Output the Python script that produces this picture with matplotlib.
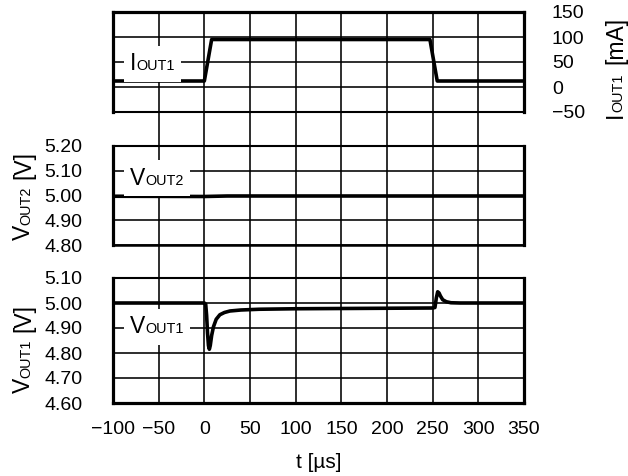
import matplotlib
matplotlib.use("Agg")
import matplotlib.pyplot as plt
from matplotlib.offsetbox import TextArea, HPacker, AnnotationBbox

plt.rcParams['font.family'] = ['Liberation Sans', 'DejaVu Sans']

# ---------------- data ----------------
t_ticks = [-100, -50, 0, 50, 100, 150, 200, 250, 300, 350]
i_ticks = [-50, 0, 50, 100, 150]
v2_ticks = [4.80, 4.90, 5.00, 5.10, 5.20]
v1_ticks = [4.60, 4.70, 4.80, 4.90, 5.00, 5.10]

t_i = [-100, 0, 8, 247, 255, 350]
i_out1 = [12, 12, 95, 95, 12, 12]

t_v2 = [-100, 0, 25, 350]
v_out2 = [4.997, 4.996, 4.998, 4.998]

t_v1 = [-100, 0, 1.5, 2.5, 3.5, 4.5, 5.5, 6.5, 8, 10, 13, 17, 22, 28, 40, 60,
        100, 150, 200, 250, 252.5, 254, 255.5, 257, 258.5, 261, 265, 270, 280, 350]
v_out1 = [5.00, 5.00, 4.995, 4.95, 4.88, 4.83, 4.815, 4.83, 4.87, 4.905, 4.935,
          4.953, 4.962, 4.968, 4.972, 4.975, 4.977, 4.978, 4.979, 4.980, 4.982,
          5.02, 5.045, 5.04, 5.028, 5.013, 5.005, 5.001, 5.00, 5.00]

# ---------------- layout ----------------
W, H = 628, 476
fig = plt.figure(figsize=(W / 100, H / 100), dpi=100)


def rect(l, t, r, b):
    return [l / W, 1 - b / H, (r - l) / W, (b - t) / H]


L, R = 113, 524
THICK, THIN, GRID, SIG = 2.3, 1.5, 1.15, 2.6
TICK_FS, LAB_FS, SUB_FS = 14, 16.5, 10.4

bg = fig.add_axes(rect(L, 12, R, 403), zorder=0)
bg.set_xlim(t_ticks[0], t_ticks[-1])
bg.set_ylim(0, 1)
bg.axis('off')
bg.vlines(t_ticks[1:-1], 0, 1, color='k', lw=GRID)

ax1 = fig.add_axes(rect(L, 12, R, 112), zorder=1)
ax2 = fig.add_axes(rect(L, 146, R, 245), zorder=1)
ax3 = fig.add_axes(rect(L, 278, R, 403), zorder=1)

spine_w = {
    ax1: dict(top=THICK, left=THICK, right=THICK, bottom=THIN),
    ax2: dict(top=THIN, left=THICK, right=THICK, bottom=1.8),
    ax3: dict(top=THIN, left=THICK, right=THICK, bottom=THICK),
}

for ax in (ax1, ax2, ax3):
    ax.patch.set_visible(False)
    ax.set_xlim(t_ticks[0], t_ticks[-1])
    ax.set_xticks(t_ticks)
    ax.grid(axis='y', color='k', lw=GRID)
    ax.grid(axis='x', visible=False)
    ax.tick_params(length=0, labelsize=TICK_FS)
    for k, w in spine_w[ax].items():
        ax.spines[k].set_linewidth(w)
        ax.spines[k].set_capstyle('projecting')

ax1.set_ylim(i_ticks[0], i_ticks[-1])
ax1.set_yticks(i_ticks)
ax1.yaxis.tick_right()
ax1.tick_params(axis='y', pad=20)
ax1.tick_params(axis='x', labelbottom=False)

ax2.set_ylim(v2_ticks[0], v2_ticks[-1])
ax2.set_yticks(v2_ticks)
ax2.set_yticklabels([f"{v:.2f}" for v in v2_ticks])
ax2.tick_params(axis='y', pad=22)
ax2.tick_params(axis='x', labelbottom=False)

ax3.set_ylim(v1_ticks[0], v1_ticks[-1])
ax3.set_yticks(v1_ticks)
ax3.set_yticklabels([f"{v:.2f}" for v in v1_ticks])
ax3.tick_params(axis='y', pad=22)
ax3.tick_params(axis='x', pad=13)

kw = dict(color='k', lw=SIG, solid_joinstyle='round', solid_capstyle='butt', zorder=3)
ax1.plot(t_i, i_out1, **kw)
ax2.plot(t_v2, v_out2, **kw)
ax3.plot(t_v1, v_out1, **kw)


def panel_label(ax, x, y, big, small):
    ta1 = TextArea(big, textprops=dict(fontsize=LAB_FS))
    ta2 = TextArea(small, textprops=dict(fontsize=SUB_FS))
    pk = HPacker(children=[ta1, ta2], align='baseline', pad=0, sep=0)
    ab = AnnotationBbox(pk, (x, y), xycoords='data', box_alignment=(0, 0.5),
                        frameon=True, pad=0.45,
                        bboxprops=dict(fc='white', ec='none'), zorder=4)
    ax.add_artist(ab)


panel_label(ax1, -81, 46, "I", "OUT1")
panel_label(ax2, -81, 5.07, "V", "OUT2")
panel_label(ax3, -81, 4.905, "V", "OUT1")

renderer = fig.canvas.get_renderer()


def text_width(s, size):
    tt = fig.text(0, 0, s, fontsize=size)
    w = tt.get_window_extent(renderer).width
    tt.remove()
    return w


def multi_text(x, y, parts, rotation=0):
    """x, y: pixel position (from top-left) of the baseline start."""
    px, py = x, H - y
    for s, size, gap in parts:
        if rotation == 90:
            py += gap
        else:
            px += gap
        fig.text(px / W, py / H, s, fontsize=size, rotation=rotation,
                 rotation_mode='anchor', ha='left', va='baseline')
        w = text_width(s, size)
        if rotation == 90:
            py += w
        else:
            px += w


multi_text(30, 240, [("V", LAB_FS, 0), ("OUT2", SUB_FS, 0), ("[V]", LAB_FS, 7)], rotation=90)
multi_text(30, 393, [("V", LAB_FS, 0), ("OUT1", SUB_FS, 0), ("[V]", LAB_FS, 7)], rotation=90)
multi_text(622, 118, [("I", LAB_FS, 0), ("OUT1", SUB_FS, 0), ("[mA]", LAB_FS, 9)], rotation=90)

fig.text((L + R) / 2 / W, 1 - 462 / H, "t [\u00b5s]", fontsize=LAB_FS - 1.5,
         ha='center', va='center')

fig.savefig("out.png", dpi=100, facecolor='white')
